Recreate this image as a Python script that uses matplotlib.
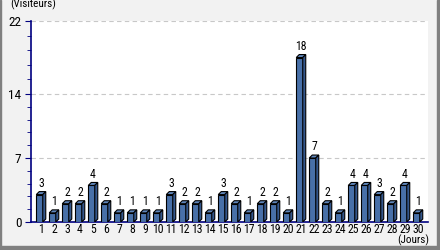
import numpy as np
import matplotlib
matplotlib.use("Agg")
import matplotlib.pyplot as plt
from matplotlib.patches import Polygon, Rectangle
from matplotlib import font_manager

days = list(range(1, 31))
visits = [3, 1, 2, 2, 4, 2, 1, 1, 1, 1, 3, 2, 2, 1, 3,
          2, 1, 2, 2, 1, 18, 7, 2, 1, 4, 4, 3, 2, 4, 1]
yticks = [0, 7, 14, 22]

# pick a narrow face if one exists, else shrink DejaVu a bit
fonts = font_manager.fontManager.ttflist
stretch = 'normal'
family = 'DejaVu Sans'
size = 7
for f in fonts:
    if f.name in ('Liberation Sans Narrow', 'Roboto Condensed', 'Open Sans Condensed'):
        family, size = f.name, 8.5
        break
else:
    for f in fonts:
        if f.name == 'DejaVu Sans' and f.stretch in ('condensed', 'semi-condensed', 600, 700) \
                or 'Condensed' in f.fname:
            family, stretch, size = f.name, 'condensed', 8.5
            break
plt.rcParams['font.family'] = [family, 'DejaVu Sans']
plt.rcParams['font.stretch'] = stretch

W, H = 440, 250
fig = plt.figure(figsize=(W / 100, H / 100), dpi=100)
fig.patch.set_facecolor('#f2f2f2')

# grey frame around the picture, heavier at bottom/right
fig.patches.append(Rectangle((0, 0), 1, 4 / H, transform=fig.transFigure, color='#808080', zorder=0))
fig.patches.append(Rectangle((1 - 3 / W, 0), 3 / W, 1, transform=fig.transFigure, color='#808080', zorder=0))
fig.patches.append(Rectangle((0, 0), 1 / W, 1, transform=fig.transFigure, color='#808080', zorder=0))

left, right, top, bottom = 31, 428, 21, 222
ax = fig.add_axes([left / W, 1 - bottom / H, (right - left) / W, (bottom - top) / H])
ax.set_facecolor('white')

x0, x1 = 0.23, 30.77
ax.set_xlim(x0, x1)
ax.set_ylim(0, 22)
pxx = (right - left) / (x1 - x0)
pxy = (bottom - top) / 22.0

dx = 3 / pxx
dy = 3 / pxy
bw = 6.5 / pxx
front_c = '#4870a8'
top_c = '#5f86bb'
side_c = '#34578c'
for d, v in zip(days, visits):
    xl = d - (bw + dx) / 2
    ax.add_patch(Rectangle((xl, 0), bw, v, facecolor=front_c, edgecolor='black', lw=0.8, zorder=3))
    ax.add_patch(Polygon([(xl, v), (xl + dx, v + dy), (xl + bw + dx, v + dy), (xl + bw, v)],
                         closed=True, facecolor=top_c, edgecolor='black', lw=0.8, zorder=3))
    ax.add_patch(Polygon([(xl + bw, 0), (xl + bw, v), (xl + bw + dx, v + dy), (xl + bw + dx, dy)],
                         closed=True, facecolor=side_c, edgecolor='black', lw=0.8, zorder=3))
    ax.text(d, v + dy + 0.2, str(v), ha='center', va='bottom', fontsize=size, zorder=4)

for yv in yticks[1:]:
    ax.axhline(yv, color='#c8c8c8', lw=0.8, ls=(0, (4, 3)), zorder=1)

minor = []
for a, b in zip(yticks[:-1], yticks[1:]):
    minor += list(np.linspace(a, b, 6)[1:-1])
ax.set_yticks(yticks)
ax.set_yticks(minor, minor=True)
ax.set_xticks(days)
ax.set_xticklabels([str(d) for d in days])

for s in ['top', 'right']:
    ax.spines[s].set_visible(False)
for s in ['left', 'bottom']:
    ax.spines[s].set_color('#000080')
    ax.spines[s].set_linewidth(1.2)
ax.tick_params(axis='y', which='major', length=4, color='#000080', labelsize=size + 1, pad=3)
ax.tick_params(axis='y', which='minor', length=3, color='#000080')
ax.tick_params(axis='x', length=0, labelsize=size, pad=0.5)

fig.text(10 / W, 1 - 4.5 / H, '(Visiteurs)', fontsize=size - 0.5, ha='left', va='center')
fig.text(429 / W, 1 - 240.5 / H, '(Jours)', fontsize=size - 0.5, ha='right', va='center')

fig.savefig('out.png', dpi=100, facecolor=fig.get_facecolor())
